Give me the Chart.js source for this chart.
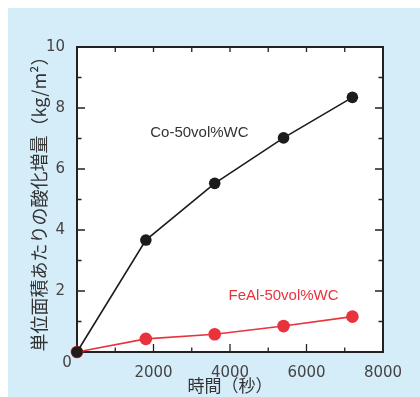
<!DOCTYPE html>
<html>
<head>
<meta charset="utf-8">
<script src="https://cdn.jsdelivr.net/npm/chart.js@4"></script>
<style>
    html, body { margin: 0; padding: 0; background: #fff; }
    #panel { position: absolute; left: 8px; top: 8px; width: 412px; height: 389px; background: #d5ecf9; }
    #wrap { position: absolute; left: 0; top: 0; width: 420px; height: 397px; }
</style>
</head>
<body>
<div id="panel"></div>
<div id="wrap"><canvas id="chart" width="420" height="397"></canvas></div>
<script>
// time (s) and mass gain per unit area (kg/m2)
const times = [0, 1800, 3600, 5400, 7200];
const coWC = [0, 3.67, 5.53, 7.02, 8.35];
const feAlWC = [0, 0.43, 0.58, 0.85, 1.16];
const seriesNames = ['Co-50vol%WC', 'FeAl-50vol%WC'];
const xTicks = [0, 2000, 4000, 6000, 8000];
const yTicks = [0, 2, 4, 6, 8, 10];

const RED = '#e8323c';
const DARK = '#1c1c1c';

const toPoints = (vals) => vals.map((v, i) => ({ x: times[i], y: v }));

// frame, inward ticks, series labels
const framePlugin = {
    id: 'frame',
    beforeDraw(chart) {
        const { ctx, chartArea: a } = chart;
        ctx.save();
        ctx.fillStyle = '#fff';
        ctx.fillRect(a.left, a.top, a.right - a.left, a.bottom - a.top);
        ctx.restore();
    },
    beforeDatasetsDraw(chart) {
        const { ctx, chartArea: a, scales: { x, y } } = chart;
        ctx.save();
        ctx.strokeStyle = '#222';
        ctx.lineWidth = 1.3;
        ctx.beginPath();
        for (let v = 1000; v < 8000; v += 1000) {
            const px = x.getPixelForValue(v);
            const len = v % 2000 === 0 ? 8 : 4.5;
            ctx.moveTo(px, a.bottom); ctx.lineTo(px, a.bottom - len);
            ctx.moveTo(px, a.top); ctx.lineTo(px, a.top + 5);
        }
        for (let v = 1; v < 10; v++) {
            const py = y.getPixelForValue(v);
            const len = v % 2 === 0 ? 8 : 4.5;
            ctx.moveTo(a.left, py); ctx.lineTo(a.left + len, py);
            ctx.moveTo(a.right, py); ctx.lineTo(a.right - len, py);
        }
        ctx.stroke();
        ctx.lineWidth = 2;
        ctx.strokeRect(a.left, a.top, a.right - a.left, a.bottom - a.top);
        ctx.restore();
    },
    afterDraw(chart) {
        const { ctx, scales: { x, y } } = chart;
        ctx.save();
        ctx.textAlign = 'center';
        ctx.textBaseline = 'middle';
        ctx.font = '15px "Liberation Sans", Arial, sans-serif';
        ctx.fillStyle = '#333';
        ctx.fillText(seriesNames[0], x.getPixelForValue(3200), y.getPixelForValue(7.18));
        ctx.fillStyle = RED;
        ctx.fillText(seriesNames[1], x.getPixelForValue(5400), y.getPixelForValue(1.84));
        // shared origin label
        ctx.font = '15px "DejaVu Sans", sans-serif';
        ctx.fillStyle = '#444';
        ctx.fillText('0', x.getPixelForValue(0) - 10, y.getPixelForValue(0) + 11);
        ctx.restore();
    }
};

new Chart(document.getElementById('chart'), {
    type: 'line',
    data: {
        datasets: [
            {
                label: seriesNames[0],
                data: toPoints(coWC),
                borderColor: DARK,
                backgroundColor: DARK,
                borderWidth: 1.6,
                pointRadius: 5.8,
                pointBorderWidth: 0,
                clip: false
            },
            {
                label: seriesNames[1],
                data: toPoints(feAlWC),
                borderColor: RED,
                backgroundColor: RED,
                borderWidth: 1.6,
                pointRadius: 6.3,
                pointBorderWidth: 0,
                clip: false
            }
        ]
    },
    options: {
        responsive: false,
        animation: false,
        events: [],
        layout: { padding: { top: 47, right: 37, left: 0, bottom: 0 } },
        plugins: { legend: { display: false }, tooltip: { enabled: false } },
        scales: {
            x: {
                type: 'linear',
                min: 0,
                max: 8000,
                afterBuildTicks: (s) => { s.ticks = xTicks.map(v => ({ value: v })); },
                afterFit: (s) => { s.height = 45; },
                grid: { display: false },
                border: { display: false },
                ticks: {
                    padding: 4,
                    color: '#444',
                    font: { family: 'DejaVu Sans', size: 15 },
                    maxRotation: 0,
                    callback: (v) => (v === 0 ? '' : v)
                },
                title: {
                    display: true,
                    text: '時間（秒）',
                    color: '#333',
                    font: { family: 'Noto Sans CJK JP', size: 17 },
                    padding: { top: 0, bottom: 1 }
                }
            },
            y: {
                min: 0,
                max: 10,
                afterBuildTicks: (s) => { s.ticks = yTicks.map(v => ({ value: v })); },
                afterFit: (s) => { s.width = 77; },
                grid: { display: false },
                border: { display: false },
                ticks: {
                    padding: 4,
                    color: '#444',
                    font: { family: 'DejaVu Sans', size: 15 },
                    callback: (v) => (v === 0 ? '' : v)
                },
                title: {
                    display: true,
                    text: '単位面積あたりの酸化増量（kg/m²）',
                    color: '#333',
                    font: { family: 'Noto Sans CJK JP', size: 18 },
                    padding: { top: 28, bottom: 0 }
                }
            }
        }
    },
    plugins: [framePlugin]
});
</script>
</body>
</html>
